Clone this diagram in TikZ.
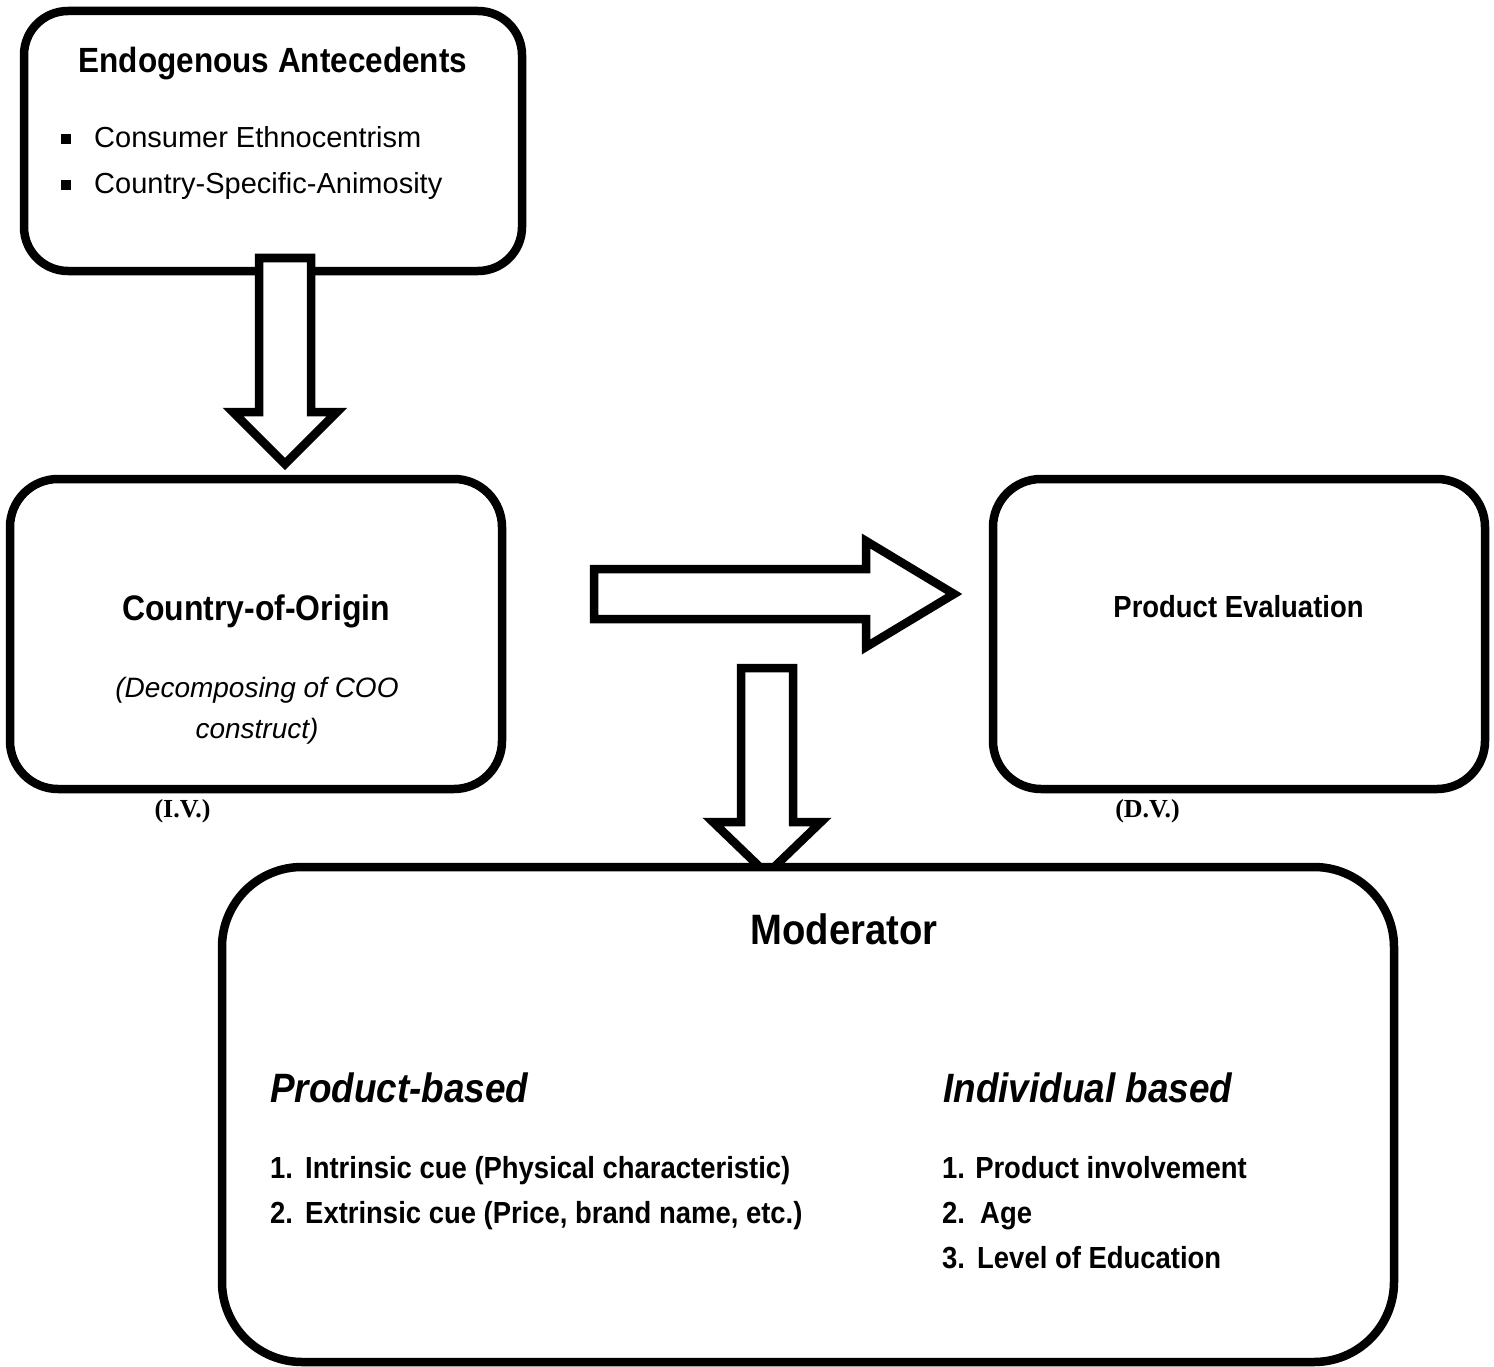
\documentclass[tikz,border=0pt]{standalone}
\usepackage{fontspec}
\setmainfont{Liberation Sans}[BoldFeatures={FakeStretch=0.9},BoldItalicFeatures={FakeStretch=0.9}]
\newfontfamily\tnr{Liberation Serif}
\begin{document}
\begin{tikzpicture}[x=1pt,y=-1pt,
  box/.style={draw, line width=8.5pt, inner sep=0pt, fill=white},
  blk/.style={draw, line width=8.5pt, fill=white, line join=miter},
  lbl/.style={inner sep=0pt, anchor=base},
  lblw/.style={inner sep=0pt, anchor=base west},
  sq/.style={fill=black, inner sep=0pt, minimum size=10pt},
  ttl/.style={font=\fontsize{35}{40}\selectfont\bfseries},
  bul/.style={font=\fontsize{29}{34}\selectfont},
  big/.style={font=\fontsize{35.5}{40}\selectfont\bfseries},
  itl/.style={font=\fontsize{28}{34}\selectfont\itshape},
  pe/.style={font=\fontsize{30.5}{35}\selectfont\bfseries},
  iv/.style={font=\fontsize{26}{30}\selectfont\tnr\bfseries},
  modt/.style={font=\fontsize{42.5}{48}\selectfont\bfseries},
  sub/.style={font=\fontsize{41}{46}\selectfont\bfseries\itshape},
  item/.style={font=\fontsize{30.5}{35}\selectfont\bfseries}]
\useasboundingbox (0,0) rectangle (1494,1367);

% Endogenous antecedents box
\node[box, rounded corners=44pt, minimum width=498pt, minimum height=260pt] (endo) at (273,141) {};
\node[lbl, ttl] (endot) at (273,73) {Endogenous Antecedents};
\node[sq] (b1) at (66,139) {};
\node[lblw, bul] (e1) at (94,148) {Consumer Ethnocentrism};
\node[sq] (b2) at (66,185) {};
\node[lblw, bul] (e2) at (94,194) {Country-Specific-Animosity};

% block arrow 1 (down)
\coordinate (a1) at (285,258);
\draw[blk] (a1) ++(-26,0) -- ++(0,154) -- ++(-26,0) -- (285,464) -- (337,412) -- (311,412) -- (311,258) -- cycle;

% Country-of-Origin box
\node[box, rounded corners=48pt, minimum width=492pt, minimum height=310pt] (coo) at (256,634) {};
\node[lbl, big] (coot) at (256,620) {Country-of-Origin};
\node[lbl, itl] (coo1) at (257,697) {(Decomposing of COO};
\node[lbl, itl] (coo2) at (257,738) {construct)};
\node[lbl, iv] (ivl) at (182.5,817) {(I.V.)};

% Product evaluation box
\node[box, rounded corners=48pt, minimum width=492pt, minimum height=310pt] (pe) at (1239,634) {};
\node[lbl, pe] (pet) at (1238.5,617) {Product Evaluation};
\node[lbl, iv] (dvl) at (1147.5,817) {(D.V.)};

% block arrow 2 (right)
\coordinate (a2) at (594,594);
\draw[blk] (a2) ++(0,-25) -- (866,569) -- (866,541) -- (954,594) -- (866,647) -- (866,619) -- (594,619) -- cycle;

% block arrow 3 (down)
\coordinate (a3) at (767,668);
\draw[blk] (a3) ++(-26,0) -- (741,822) -- (713,822) -- (767,874) -- (821,822) -- (793,822) -- (793,668) -- cycle;

% Moderator box
\node[box, rounded corners=80pt, minimum width=1172pt, minimum height=495pt] (mod) at (808,1114.5) {};
\node[lbl, modt] (modt) at (844,944) {Moderator};
\node[lblw, sub] (pb) at (270,1102) {Product-based};
\node[lblw, item] (p1) at (270,1178) {\makebox[35pt][l]{1.}Intrinsic cue (Physical characteristic)};
\node[lblw, item] (p2) at (270,1223) {\makebox[35pt][l]{2.}Extrinsic cue (Price, brand name, etc.)};
\node[lblw, sub] (ib) at (943,1102) {Individual based};
\node[lblw, item] (i1) at (942,1178) {1. Product involvement};
\node[lblw, item] (i2) at (942,1223) {\makebox[38pt][l]{2.}Age};
\node[lblw, item] (i3) at (942,1268) {\makebox[35pt][l]{3.}Level of Education};
\end{tikzpicture}
\end{document}
